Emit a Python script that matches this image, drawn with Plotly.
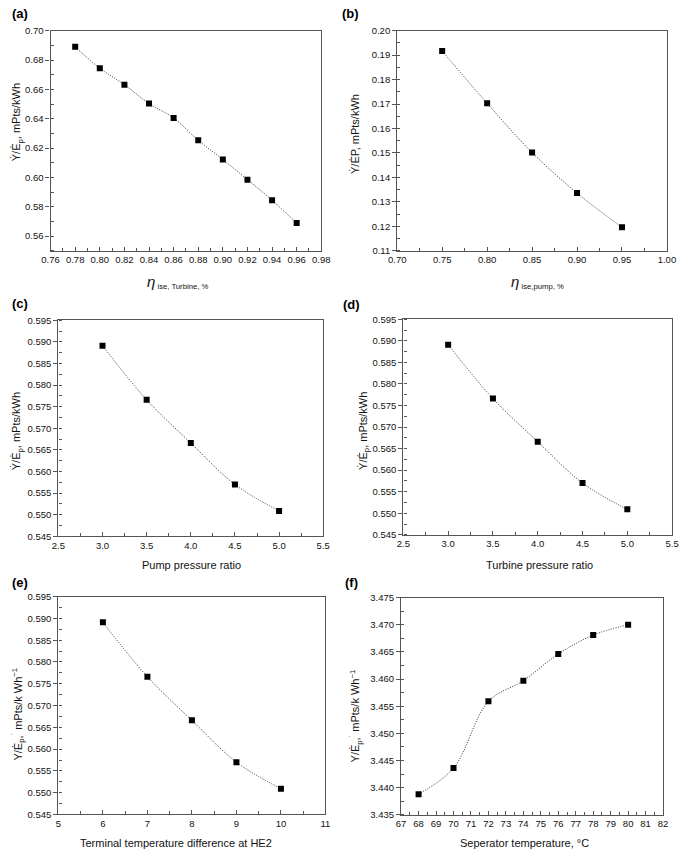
import plotly.graph_objects as go

W, H = 685, 856

# ---------------- data ----------------
a_x = [0.78, 0.80, 0.82, 0.84, 0.86, 0.88, 0.90, 0.92, 0.94, 0.96]
a_y = [0.6890, 0.6744, 0.6632, 0.6503, 0.6405, 0.6253, 0.6122, 0.5985, 0.5845, 0.5689]

b_x = [0.75, 0.80, 0.85, 0.90, 0.95]
b_y = [0.1917, 0.1703, 0.1502, 0.1336, 0.1196]

c_x = [3.0, 3.5, 4.0, 4.5, 5.0]
c_y = [0.5891, 0.5766, 0.5666, 0.5570, 0.5509]

d_x = [3.0, 3.5, 4.0, 4.5, 5.0]
d_y = [0.5891, 0.5766, 0.5666, 0.5570, 0.5509]

e_x = [6, 7, 8, 9, 10]
e_y = [0.5891, 0.5766, 0.5666, 0.5570, 0.5509]

f_x = [68, 70, 72, 74, 76, 78, 80]
f_y = [3.4388, 3.4436, 3.4559, 3.4597, 3.4646, 3.4681, 3.4700]

panel_labels = ["(a)", "(b)", "(c)", "(d)", "(e)", "(f)"]
ETA = '<span style="font-size:15px"><i>η</i></span>'
x_titles = [
    ETA + "<sub> ise, Turbine, %</sub>",
    ETA + "<sub> ise,pump, %</sub>",
    "Pump pressure ratio",
    "Turbine pressure ratio",
    "Terminal temperature difference at HE2",
    "Seperator temperature, °C",
]
y_titles = [
    "Ẏ/Ė<sub>p</sub>, mPts/kWh",
    "Ẏ/ĖP, mPts/kWh",
    "Ẏ/Ė<sub>p</sub>, mPts/kWh",
    "Ẏ/Ė<sub>p</sub>, mPts/kWh",
    "Y/Ė<sub>p</sub>,<sup>˙</sup> mPts/k Wh<sup>−1</sup>",
    "Y/Ė<sub>p</sub>,<sup>˙</sup> mPts/k Wh<sup>−1</sup>",
]

# ---------------- layout geometry (pixels) ----------------
panels = [
    dict(x=a_x, y=a_y, box=(42.7, 320.7, 25, 248), xr=[0.76, 0.98], xd=0.02, xt0=0.76, xf=".2f",
         yr=[0.55, 0.70], yd=0.02, yt0=0.56, yf=".2f",
         lab=(11, 8), xt=(173, 280), yt=(9, 118)),
    dict(x=b_x, y=b_y, box=(398.7, 675.7, 25, 248), xr=[0.70, 1.00], xd=0.05, xt0=0.70, xf=".2f",
         yr=[0.11, 0.20], yd=0.01, yt0=0.11, yf=".2f",
         lab=(351, 8), xt=(543, 280), yt=(356, 130)),
    dict(x=c_x, y=c_y, box=(50.7, 322.7, 318.3, 537.3), xr=[2.5, 5.5], xd=0.5, xt0=2.5, xf=".1f",
         yr=[0.545, 0.595], yd=0.005, yt0=0.545, yf=".3f",
         lab=(11, 301), xt=(187, 566), yt=(9, 431)),
    dict(x=d_x, y=d_y, box=(405, 681, 317.3, 535.7), xr=[2.5, 5.5], xd=0.5, xt0=2.5, xf=".1f",
         yr=[0.545, 0.595], yd=0.005, yt0=0.545, yf=".3f",
         lab=(352, 302), xt=(545, 566), yt=(365, 430)),
    dict(x=e_x, y=e_y, box=(50.7, 325, 598.3, 819), xr=[5, 11], xd=1, xt0=5, xf="d",
         yr=[0.545, 0.595], yd=0.005, yt0=0.545, yf=".3f",
         lab=(11, 584), xt=(172, 848), yt=(9, 717)),
    dict(x=f_x, y=f_y, box=(402.7, 671.7, 599.3, 819.3), xr=[67, 82], xd=1, xt0=67, xf="d",
         yr=[3.435, 3.475], yd=0.005, yt0=3.435, yf=".3f",
         lab=(352, 584), xt=(529, 848), yt=(356, 719)),
]

FONT = "Arial, Liberation Sans, sans-serif"
fig = go.Figure()
annotations = []
layout = {}

for i, p in enumerate(panels):
    n = "" if i == 0 else str(i + 1)
    xa, ya = "xaxis" + n, "yaxis" + n
    x0, x1, y0, y1 = p["box"]
    fig.add_trace(go.Scatter(
        x=p["x"], y=p["y"], xaxis="x" + n, yaxis="y" + n,
        mode="lines+markers",
        line=dict(color="#333333", width=1, dash="1px,1.5px", shape="spline"),
        marker=dict(symbol="square", size=6, color="black"),
        showlegend=False, hoverinfo="x+y",
    ))
    common = dict(showgrid=False, zeroline=False, showline=True, linecolor="#555555",
                  linewidth=1.3, mirror=True,
                  tickfont=dict(family=FONT, size=9.5, color="#111111"))
    layout[xa] = dict(common, domain=[x0 / W, x1 / W], range=p["xr"], anchor="y" + n,
                      tickmode="linear", tick0=p["xt0"], dtick=p["xd"], tickformat=p["xf"],
                      ticks="inside", ticklen=4, tickcolor="#555555",
                      minor=dict(ticks="inside", ticklen=3, dtick=p["xd"] / 2, tickcolor="#555555"))
    layout[ya] = dict(common, domain=[1 - y1 / H, 1 - y0 / H], range=p["yr"], anchor="x" + n,
                      tickmode="linear", tick0=p["yt0"], dtick=p["yd"], tickformat=p["yf"],
                      ticks="outside", ticklen=4, tickcolor="#555555",
                      minor=dict(ticks="inside", ticklen=3, dtick=p["yd"] / 2, tickcolor="#555555"))
    lx, ly = p["lab"]
    annotations.append(dict(text="<b>" + panel_labels[i] + "</b>", x=lx / W, y=1 - ly / H,
                            xref="paper", yref="paper", showarrow=False,
                            xanchor="center", yanchor="middle",
                            font=dict(family=FONT, size=13, color="black")))
    tx, ty = p["xt"]
    annotations.append(dict(text=x_titles[i], x=tx / W, y=1 - ty / H, xref="paper", yref="paper",
                            showarrow=False, xanchor="center", yanchor="middle",
                            font=dict(family=FONT, size=11, color="#111111")))
    vx, vy = p["yt"]
    annotations.append(dict(text=y_titles[i], x=vx / W, y=1 - vy / H, xref="paper", yref="paper",
                            showarrow=False, textangle=-90, xanchor="center", yanchor="middle",
                            font=dict(family=FONT, size=11, color="#111111")))

fig.update_layout(
    width=W, height=H, margin=dict(l=0, r=0, t=0, b=0),
    paper_bgcolor="white", plot_bgcolor="white",
    annotations=annotations, **layout,
)
fig.write_html("out.html",
               config={"displayModeBar": False},
               post_script="document.body.style.margin='0';document.body.style.overflow='hidden';")
